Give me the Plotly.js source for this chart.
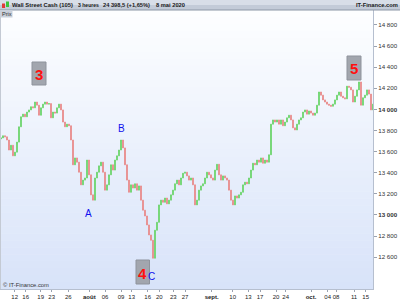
<!DOCTYPE html>
<html>
<head>
<meta charset="utf-8">
<script src="https://cdn.plot.ly/plotly-3.0.1.min.js"></script>
<style>
html,body{margin:0;padding:0;background:#fff;}
#chart{width:400px;height:300px;}
</style>
</head>
<body>
<div id="chart"></div>
<script>
// ---- data (3-hour bar closes) ----
const startOpen = 13720;
const closes = [
13730,13750,13740,13710,13615,13660,13560,13595,13690,13835,
13930,13955,13930,13975,13995,14025,14015,14070,14040,13945,
14015,14050,14070,14050,14055,13920,13975,13965,14015,14050,
13995,13880,13835,13860,13845,13710,13475,13540,13500,13405,
13285,13330,13350,13520,13380,13190,13140,13350,13405,13465,
13500,13405,13235,13285,13380,13475,13425,13520,13560,13615,
13710,13635,13475,13330,13215,13285,13255,13295,13235,13275,
13140,13045,12990,12905,12810,12760,12590,12855,12930,13095,
13140,13120,13160,13105,13140,13190,13235,13295,13330,13285,
13350,13395,13405,13370,13330,13350,13285,13095,13140,13235,
13275,13295,13350,13405,13380,13350,13330,13425,13480,13380,
13330,13370,13350,13330,13235,13140,13095,13180,13160,13190,
13215,13285,13310,13295,13350,13425,13490,13475,13520,13500,
13540,13490,13520,13500,13570,13860,13900,13880,13900,13860,
13900,13845,13880,13920,13945,13900,13825,13805,13860,13900,
13920,13975,13995,13955,13985,13965,13945,13965,14040,14165,
14135,14090,14070,14050,14040,14030,14050,14090,14135,14165,
14125,14110,14100,14220,14210,14185,14070,14125,14185,14260,
14040,14110,14135,14185,14145,13995,14050
];
const yTickVals = [12600,12800,13000,13200,13400,13600,13800,14000,14200,14400,14600,14800];
const yTickText = ['12 600','12 800','13 000','13 200','13 400','13 600','13 800','14 000','14 200','14 400','14 600','14 800'];
const xTickBars = [6.85,12.35,19.85,25.35,33.65,44.15,52,60,65.35,73.35,79.15,86.15,92,105.35,115.85,123.65,129.5,137.5,142.35,155,163.35,167.5,176.5,182.35];
const xTickText = ['12','16','19','23','26','août','06','09','13','16','20','23','27','sept.','10','13','17','20','24','oct.','04','08','11','15'];
const waveNumbers = ['3','4','5'];
const waveLetters = ['A','B','C'];
const headerParts = ['Wall Street Cash (105)','3 heures','24 398,5 (+1,65%)','8 mai 2020'];
const siteName = 'IT-Finance.com';

// ---- build OHLC table from closes ----
const idx = closes.map((_, i) => i);
const opens = closes.map((c, i) => i === 0 ? startOpen : closes[i - 1]);
const highs = closes.map((c, i) => Math.max(c, opens[i]));
const lows = closes.map((c, i) => Math.min(c, opens[i]));

const W = 400, H = 300;
const px = x => x / W;
const py = y => 1 - y / H;
const FONT = 'Liberation Sans, Arial, sans-serif';

// fit header text sizes to their widths in the reference
const cvs = document.createElement('canvas').getContext('2d');
function fitSize(text, width, maxSize) {
  cvs.font = 'bold ' + maxSize + 'px "Liberation Sans"';
  const w = cvs.measureText(text).width;
  return Math.min(maxSize, maxSize * width / w);
}

const shapes = [];
// plot-area vertical gradient (white -> light blue)
const areaTop = 10, areaBot = 289, nb = 40;
for (let k = 0; k < nb; k++) {
  const t = k / (nb - 1);
  const r = Math.round(253 + (216 - 253) * t);
  const g = Math.round(254 + (227 - 254) * t);
  const b = Math.round(255 + (249 - 255) * t);
  const y0 = areaTop + (areaBot - areaTop) * k / nb, y1 = areaTop + (areaBot - areaTop) * (k + 1) / nb;
  shapes.push({type:'rect', xref:'paper', yref:'paper', x0:0, x1:px(373), y0:py(Math.min(y1 + 0.5, areaBot)), y1:py(y0), fillcolor:`rgb(${r},${g},${b})`, line:{width:0}, layer:'below'});
}
// left border of the plot
shapes.push({type:'line', xref:'paper', yref:'paper', x0:px(0.5), x1:px(0.5), y0:py(areaBot), y1:py(areaTop), line:{color:'#c4cad4', width:1}});
// header bar
shapes.push({type:'rect', xref:'paper', yref:'paper', x0:0, x1:1, y0:py(5), y1:1, fillcolor:'#d8dee8', line:{width:0}});
shapes.push({type:'rect', xref:'paper', yref:'paper', x0:0, x1:1, y0:py(10), y1:py(5), fillcolor:'#c3cbd8', line:{width:0}});
shapes.push({type:'line', xref:'paper', yref:'paper', x0:0, x1:1, y0:py(10), y1:py(10), line:{color:'#8c96a6', width:1}});
// small icon
shapes.push({type:'rect', xref:'paper', yref:'paper', x0:px(2), x1:px(5), y0:py(8), y1:py(3.5), fillcolor:'#e03a3a', line:{width:0}});
shapes.push({type:'rect', xref:'paper', yref:'paper', x0:px(6), x1:px(9), y0:py(7), y1:py(1.5), fillcolor:'#3cc43c', line:{width:0}});
// "Prix" tag
shapes.push({type:'rect', xref:'paper', yref:'paper', x0:0, x1:px(12.5), y0:py(17.5), y1:py(10), fillcolor:'#c9d0db', line:{width:0}});
// wave-number boxes
const boxes = [[32,46,62,85],[136,149.5,260,284],[347,361,56,80]];
boxes.forEach(b => shapes.push({type:'rect', xref:'paper', yref:'paper', x0:px(b[0]), x1:px(b[1]), y0:py(b[3]), y1:py(b[2]), fillcolor:'#a2a6ae', line:{color:'#8e939c', width:1}}));

const annotations = [];
const ann = (text, x, y, opts) => annotations.push(Object.assign({text, xref:'paper', yref:'paper', x:px(x), y:py(y), showarrow:false, xanchor:'center', yanchor:'middle', borderpad:0, font:{family:FONT, size:6.5, color:'#1a1a1a'}}, opts || {}));
// header texts
const headerX = [11, 77, 102, 155];
const headerW = [61, 21, 47, 29];
headerParts.forEach((t, i) => ann('<b>' + t + '</b>', headerX[i], 5, {xanchor:'left', font:{family:FONT, size:fitSize(t, headerW[i], 7), color:'#1a1a1a'}}));
ann('<b>' + siteName + '</b>', 398.5, 5, {xanchor:'right', font:{family:FONT, size:fitSize(siteName, 42, 7), color:'#1a1a1a'}});
ann('Prix', 1, 13.8, {xanchor:'left', font:{family:FONT, size:5.6, color:'#333'}});
ann('© IT-Finance.com', 1.5, 285, {xanchor:'left', font:{family:FONT, size:5.8, color:'#333'}});
// wave labels
const numPos = [[39, 74], [142.8, 273], [354, 68.5]];
waveNumbers.forEach((t, i) => ann('<b>' + t + '</b>', numPos[i][0], numPos[i][1], {font:{family:FONT, size:15, color:'#ff1010'}}));
const letPos = [[88, 213], [121, 128], [151.5, 276.5]];
waveLetters.forEach((t, i) => ann(t, letPos[i][0], letPos[i][1], {font:{family:FONT, size:10, color:'#1010ee'}}));

const trace = {
  type:'candlestick', x:idx, open:opens, high:highs, low:lows, close:closes,
  increasing:{line:{color:'#6cd46c', width:0.8}, fillcolor:'#6cd46c'},
  decreasing:{line:{color:'#e98a8a', width:0.8}, fillcolor:'#e98a8a'},
  whiskerwidth:0, hoverinfo:'skip', showlegend:false
};

const layout = {
  width:W, height:H, margin:{l:0, r:0, t:0, b:0},
  paper_bgcolor:'#ffffff', plot_bgcolor:'rgba(0,0,0,0)',
  showlegend:false,
  xaxis:{
    domain:[0, 373/400], range:[-0.5, 186], showgrid:false, zeroline:false,
    rangeslider:{visible:false},
    tickmode:'array', tickvals:xTickBars,
    ticktext:xTickText.map(t => /^\d+$/.test(t) ? t : '<b>' + t + '</b>'),
    ticks:'outside', ticklen:2, tickcolor:'#9aa2b0', tickangle:0,
    tickfont:{family:FONT, size:6, color:'#222'},
    showline:true, linecolor:'#b6bfcf', linewidth:1, fixedrange:true
  },
  yaxis:{
    domain:[1 - 289/300, 1 - 10/300], range:[12298, 14942], side:'right',
    showgrid:false, zeroline:false,
    tickmode:'array', tickvals:yTickVals,
    ticktext:yTickText.map(t => (t === '14 000' || t === '13 000') ? '<b>' + t + '</b>' : t),
    ticks:'outside', ticklen:3, tickcolor:'#9aa2b0',
    tickfont:{family:FONT, size:6.2, color:'#333'},
    showline:true, linecolor:'#b6bfcf', linewidth:1, fixedrange:true
  },
  shapes, annotations
};

Plotly.newPlot('chart', [trace], layout, {staticPlot:true, displayModeBar:false});
</script>
</body>
</html>
